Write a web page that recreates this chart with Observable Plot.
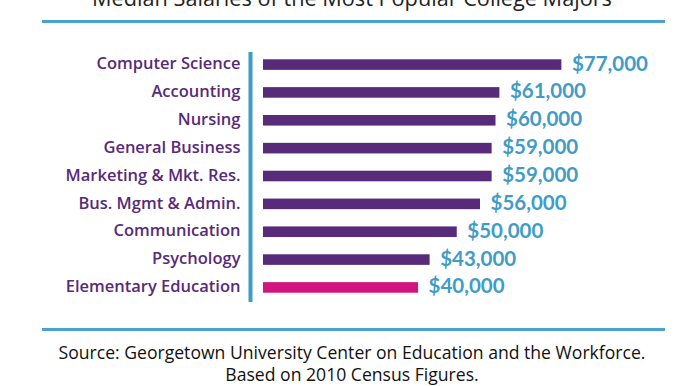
<!DOCTYPE html>
<html>
<head>
<meta charset="utf-8">
<script src="https://cdn.jsdelivr.net/npm/d3@7"></script>
<script src="https://cdn.jsdelivr.net/npm/@observablehq/plot@0.6"></script>
<style>
  html, body { margin: 0; padding: 0; background: #fff; }
  #wrap { position: relative; width: 686px; height: 386px; overflow: hidden; background: #fff; }
  #title { position: absolute; left: 9px; width: 686px; top: -17px; text-align: center;
           font-family: "Open Sans", sans-serif; font-size: 21.7px; color: #222; white-space: nowrap; }
  .hline { position: absolute; left: 42px; width: 623px; height: 3px; background: #4aa3cc; }
  #chart { position: absolute; left: 0; top: 42px; }
  #source { position: absolute; left: 9px; width: 686px; top: 341px; text-align: center;
            font-family: "Open Sans", sans-serif; font-size: 17.6px; line-height: 22px; color: #111; }
</style>
</head>
<body>
<div id="wrap">
  <div id="title">Median Salaries of the Most Popular College Majors</div>
  <div class="hline" style="top:20px"></div>
  <div id="chart"></div>
  <div class="hline" style="top:328px"></div>
  <div id="source">Source: Georgetown University Center on Education and the Workforce.<br>Based on 2010 Census Figures.</div>
</div>
<script>
const majors = ["Computer Science", "Accounting", "Nursing", "General Business", "Marketing & Mkt. Res.", "Bus. Mgmt & Admin.", "Communication", "Psychology", "Elementary Education"];
const salaries = [77000, 61000, 60000, 59000, 59000, 56000, 50000, 43000, 40000];
const highlight = ["Elementary Education"];

const data = majors.map((m, i) => ({major: m, salary: salaries[i], hi: highlight.includes(m)}));
const purple = "#582a7a", magenta = "#d2147f", blue = "#3f9cc7";

const chart = Plot.plot({
  width: 686,
  height: 268,
  marginLeft: 263,
  marginRight: 35.5,
  marginTop: 0,
  marginBottom: 0,
  x: {domain: [0, 100000], axis: null},
  y: {domain: majors, padding: 0.62, round: false, axis: null},
  marks: [
    Plot.ruleX([0], {dx: -13, stroke: blue, strokeWidth: 4, insetTop: 10, insetBottom: 8}),
    Plot.barX(data, {x: "salary", y: "major", fill: d => d.hi ? magenta : purple}),
    Plot.text(data, {x: 0, y: "major", text: "major", textAnchor: "end", dx: -23, dy: -1,
      fill: purple, fontSize: 16.5, fontWeight: 600, fontFamily: "Open Sans"}),
    Plot.text(data, {x: "salary", y: "major", text: d => "$" + d3.format(",")(d.salary),
      textAnchor: "start", dx: 10, dy: -1, fill: blue, fontSize: 20.5, fontWeight: 700, fontFamily: "Lato"})
  ]
});
document.getElementById("chart").appendChild(chart);
</script>
</body>
</html>
